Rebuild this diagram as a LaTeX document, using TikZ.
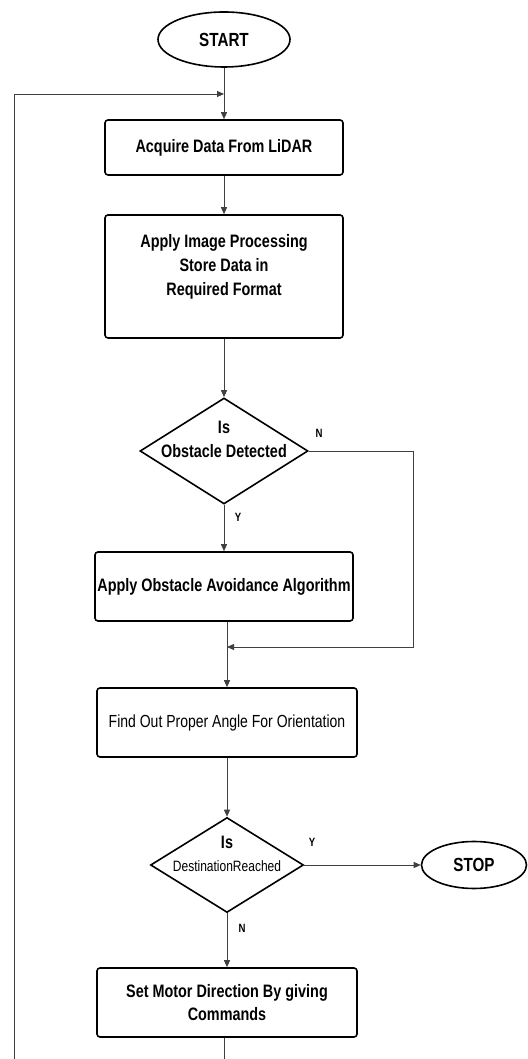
\documentclass[tikz,border=0pt]{standalone}
\usepackage{fontspec}
\setmainfont{Liberation Sans}[FakeStretch=0.8]
\usetikzlibrary{shapes.geometric,arrows.meta}

\begin{document}
\begin{tikzpicture}[x=1pt,y=1pt,
    >={Triangle[length=7pt,width=6pt]},
    term/.style={ellipse,draw,line width=1.6pt,inner sep=0pt,
        font=\fontsize{19}{22}\selectfont\bfseries},
    box/.style={rectangle,draw,rounded corners=3pt,line width=1.6pt,
        align=center,inner sep=0pt,font=\fontsize{18}{24}\selectfont\bfseries},
    decide/.style={diamond,draw,line width=1.6pt,inner sep=0pt},
    flow/.style={->,line width=0.9pt,draw=black!75},
    lbl/.style={font=\fontsize{12}{12}\selectfont\bfseries}]
    \useasboundingbox (0,0) rectangle (527,1059);
    % terminals
    \node[term,minimum width=132pt,minimum height=55pt] (start) at (224,1019.5) {START};
    \node[term,minimum width=105pt,minimum height=47pt] (stop) at (474,194) {STOP};
    % steps
    \node[box,minimum width=238pt,minimum height=55pt] (acquire) at (224,911.5) {Acquire Data From LiDAR};
    \node[box,minimum width=238pt,minimum height=123pt] (process) at (224,782.5)
        {Apply Image Processing\\Store Data in\\Required Format\\~};
    \node[decide,minimum width=168pt,minimum height=106pt,
        label={[align=center,font=\fontsize{18}{24}\selectfont\bfseries]center:Is\\Obstacle Detected\\~}] (obstacle) at (224,608) {};
    \node[box,minimum width=258pt,minimum height=69pt] (avoid) at (224,472.5) {Apply Obstacle Avoidance Algorithm};
    \node[box,minimum width=260pt,minimum height=69pt,font=\fontsize{17.5}{22}\selectfont] (angle) at (227,336.5)
        {Find Out Proper Angle For Orientation};
    \node[decide,minimum width=153pt,minimum height=95pt,
        label={[align=center,font=\fontsize{15}{23}\selectfont]center:{\fontsize{18}{23}\selectfont\bfseries Is}\\DestinationReached\\~}] (dest) at (227,194) {};
    \node[box,minimum width=260pt,minimum height=69pt,font=\fontsize{18}{23}\selectfont\bfseries] (motor) at (227,56.5)
        {Set Motor Direction By giving\\Commands};
    % loop back
    \coordinate (loopin) at (224,965);
    \coordinate (leftend) at (14,0);
    \coordinate (nturn) at (413,412);
    \coordinate (merge) at (227,412);
    % connectors
    \draw[flow] (start) -- (acquire);
    \draw[flow] (leftend) |- (loopin);
    \draw[flow] (acquire) -- (process);
    \draw[flow] (process) -- (obstacle);
    \draw[flow] (obstacle) -- (avoid);
    \node[lbl] (yes1) at (238,542) {Y};
    \draw[flow] (obstacle.east) -| (nturn) -- (merge);
    \node[lbl] (no1) at (319,626) {N};
    \draw[flow] (avoid.south -| angle.north) -- (angle.north);
    \draw[flow] (angle) -- (dest);
    \draw[flow] (dest.east) -- (stop.west);
    \node[lbl] (yes2) at (312,217) {Y};
    \draw[flow] (dest) -- (motor);
    \node[lbl] (no2) at (242,131) {N};
    \draw[flow,-] (motor.south -| start.south) -- ++(0,-22);
\end{tikzpicture}
\end{document}
